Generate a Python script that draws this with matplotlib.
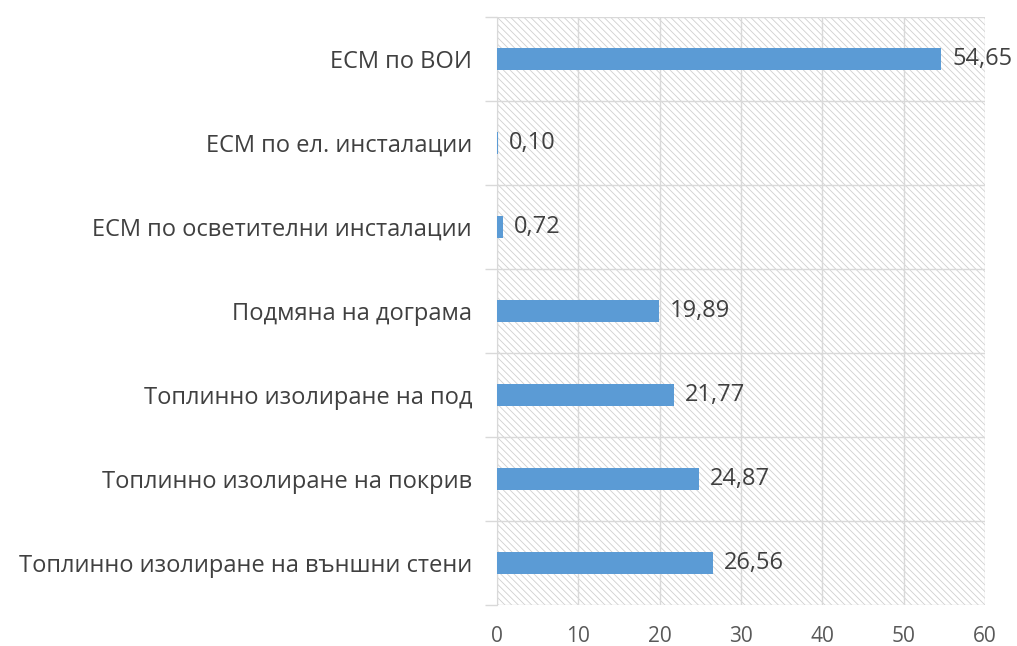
import matplotlib
matplotlib.use("Agg")
import matplotlib.pyplot as plt
from matplotlib.patches import Rectangle
import numpy as np

plt.rcParams['hatch.color'] = '#d0d0d0'
plt.rcParams['hatch.linewidth'] = 0.6

categories = [
    "Топлинно изолиране на външни стени",
    "Топлинно изолиране на покрив",
    "Топлинно изолиране на под",
    "Подмяна на дограма",
    "ЕСМ по осветителни инсталации",
    "ЕСМ по ел. инсталации",
    "ЕСМ по ВОИ",
]
values = [26.56, 24.87, 21.77, 19.89, 0.72, 0.10, 54.65]
value_labels = ["26,56", "24,87", "21,77", "19,89", "0,72", "0,10", "54,65"]
xticks = [0, 10, 20, 30, 40, 50, 60]

font = ['Open Sans', 'DejaVu Sans']
fig = plt.figure(figsize=(10.17, 6.46), dpi=100)
ax = fig.add_axes([497/1017, 1-605/646, (985-497)/1017, (605-17)/646])

n = len(categories)
y = np.arange(n)
ax.add_patch(Rectangle((0, -0.5), 60, n, facecolor='white', edgecolor='#d0d0d0',
                       linewidth=0, hatch='\\\\\\\\\\', zorder=0))
ax.barh(y, values, height=0.27, color='#5B9BD5', zorder=3)

for yi, v, lab in zip(y, values, value_labels):
    ax.text(v + 1.3, yi, lab, va='center', ha='left', fontsize=17,
            color='#404040', family=font, zorder=4)

ax.set_xlim(0, 60)
ax.set_ylim(-0.5, n - 0.5)
ax.set_xticks(xticks)
ax.set_xticklabels([str(t) for t in xticks], family=font, fontsize=15, color='#595959')
ax.set_yticks(y)
ax.set_yticklabels(categories, family=font, fontsize=17, color='#404040')
ax.set_yticks(np.arange(-0.5, n, 1), minor=True)
ax.tick_params(axis='y', which='major', length=0, pad=18)
ax.tick_params(axis='y', which='minor', length=9, color='#d9d9d9', width=1)
ax.tick_params(axis='x', which='major', length=0, pad=15)

ax.grid(axis='x', color='#d9d9d9', linewidth=1, zorder=1)
ax.grid(axis='y', which='minor', color='#d9d9d9', linewidth=1, zorder=1)
ax.set_axisbelow(True)
for s in ['top', 'right', 'bottom']:
    ax.spines[s].set_visible(False)
ax.spines['left'].set_color('#d9d9d9')
ax.spines['left'].set_zorder(2)

fig.savefig('out.png', dpi=100)
